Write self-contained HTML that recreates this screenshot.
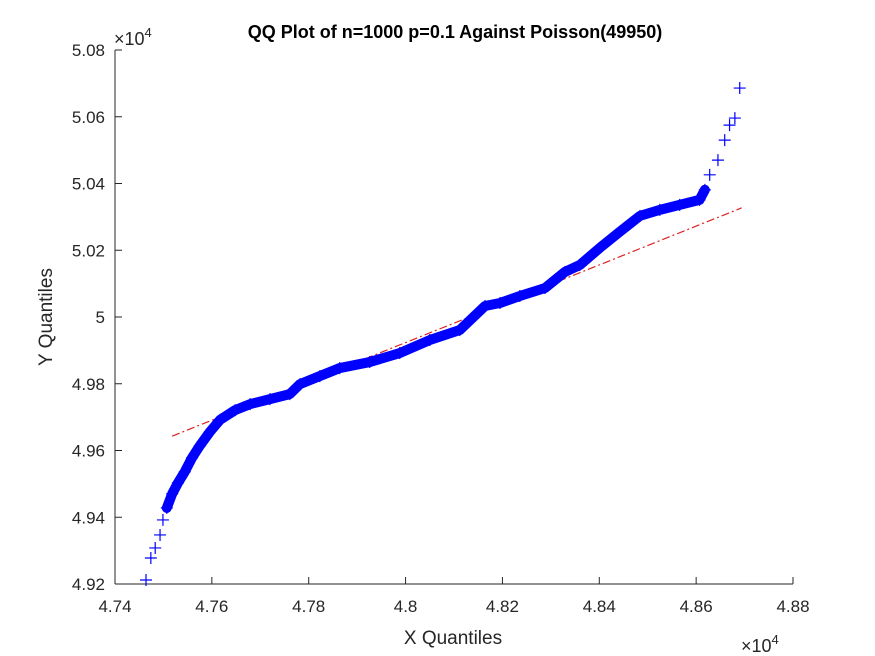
<!DOCTYPE html>
<html><head><meta charset="utf-8"><style>
body{margin:0;background:#fff;}
svg{display:block;font-family:"Liberation Sans",Arial,sans-serif;}
</style></head><body>
<svg id="chart" width="875" height="656">
<rect width="875" height="656" fill="#fff"/>
<text x="455" y="38" text-anchor="middle" font-size="18" font-weight="bold" fill="#000">QQ Plot of n=1000 p=0.1 Against Poisson(49950)</text>
<text x="453" y="644" text-anchor="middle" font-size="19" fill="#262626">X Quantiles</text>
<text transform="translate(52,317) rotate(-90)" text-anchor="middle" font-size="19" fill="#262626">Y Quantiles</text>
<text x="114" y="45" font-size="18" fill="#262626">×10<tspan dy="-8" font-size="13">4</tspan></text>
<text x="741" y="652" font-size="18" fill="#262626">×10<tspan dy="-8" font-size="13">4</tspan></text>
<g id="axes"></g>
<g id="marks"></g>
</svg>
<script>
const xTicks=[47400,47600,47800,48000,48200,48400,48600,48800];
const xTickLabels=["4.74","4.76","4.78","4.8","4.82","4.84","4.86","4.88"];
const yTicks=[49200,49400,49600,49800,50000,50200,50400,50600,50800];
const yTickLabels=["4.92","4.94","4.96","4.98","5","5.02","5.04","5.06","5.08"];
const xq=[47464,47474,47483,47493,47499,47507,47518,47530,47544,47559,47575,47596,47617,47648,47679,47720,47761,47782,47823,47864,47926,47988,48050,48112,48164,48195,48236,48288,48329,48360,48401,48442,48484,48525,48566,48607,48618,48628,48645,48659,48669,48680,48690];
const yq=[49212,49278,49308,49347,49392,49428,49470,49503,49536,49578,49614,49656,49692,49721,49739,49754,49769,49799,49823,49847,49865,49892,49931,49961,50033,50042,50063,50087,50135,50156,50207,50255,50303,50321,50336,50351,50381,50426,50470,50530,50575,50596,50686];
const refX=[47518,48694];
const refY=[49643,50327];
const X0=115,X1=793,Y0=584,Y1=50;
const sx=v=>X0+(v-47400)/(48800-47400)*(X1-X0);
const sy=v=>Y0-(v-49200)/(50800-49200)*(Y0-Y1);
const NS="http://www.w3.org/2000/svg";
function mk(tag,attrs,parent){const e=document.createElementNS(NS,tag);for(const k in attrs)e.setAttribute(k,attrs[k]);parent.appendChild(e);return e;}
const ax=document.getElementById('axes'),mg=document.getElementById('marks');
let l=mk('line',{x1:X0,y1:Y0,x2:X1,y2:Y0,stroke:'#262626','stroke-width':1},ax);


l=mk('line',{x1:X0,y1:Y0,x2:X0,y2:Y1,stroke:'#262626','stroke-width':1},ax);


xTicks.forEach((v,i)=>{const x=sx(v);
 const t=mk('line',{x1:x,y1:Y0,x2:x,y2:Y0-7,stroke:'#262626'},ax);
 
 
 const s=mk('text',{x:x,y:Y0+28,'text-anchor':'middle','font-size':17,fill:'#262626'},ax);s.textContent=xTickLabels[i];
 
 });
yTicks.forEach((v,i)=>{const y=sy(v);
 const t=mk('line',{x1:X0,y1:y,x2:X0+7,y2:y,stroke:'#262626'},ax);
 
 
 const s=mk('text',{x:X0-10,y:y+6,'text-anchor':'end','font-size':17,fill:'#262626'},ax);s.textContent=yTickLabels[i];
 
 });
const ref=mk('line',{x1:sx(refX[0]),y1:sy(refY[0]),x2:sx(refX[1]),y2:sy(refY[1]),stroke:'#e02020','stroke-width':1.2,'stroke-dasharray':'8 3 2 3'},mg);


let pts=[];for(let i=5;i<=36;i++)pts.push(sx(xq[i])+','+sy(yq[i]));
const band=mk('polyline',{points:pts.join(' '),fill:'none',stroke:'#0000ff','stroke-width':10,'stroke-linejoin':'round','stroke-linecap':'round'},mg);


xq.forEach((v,i)=>{const x=sx(v),y=sy(yq[i]);
 const p=mk('path',{d:`M${x-6},${y}H${x+6}M${x},${y-6}V${y+6}`,stroke:'#0000ff','stroke-width':1.2},mg);
 
 });
</script>
</body></html>
